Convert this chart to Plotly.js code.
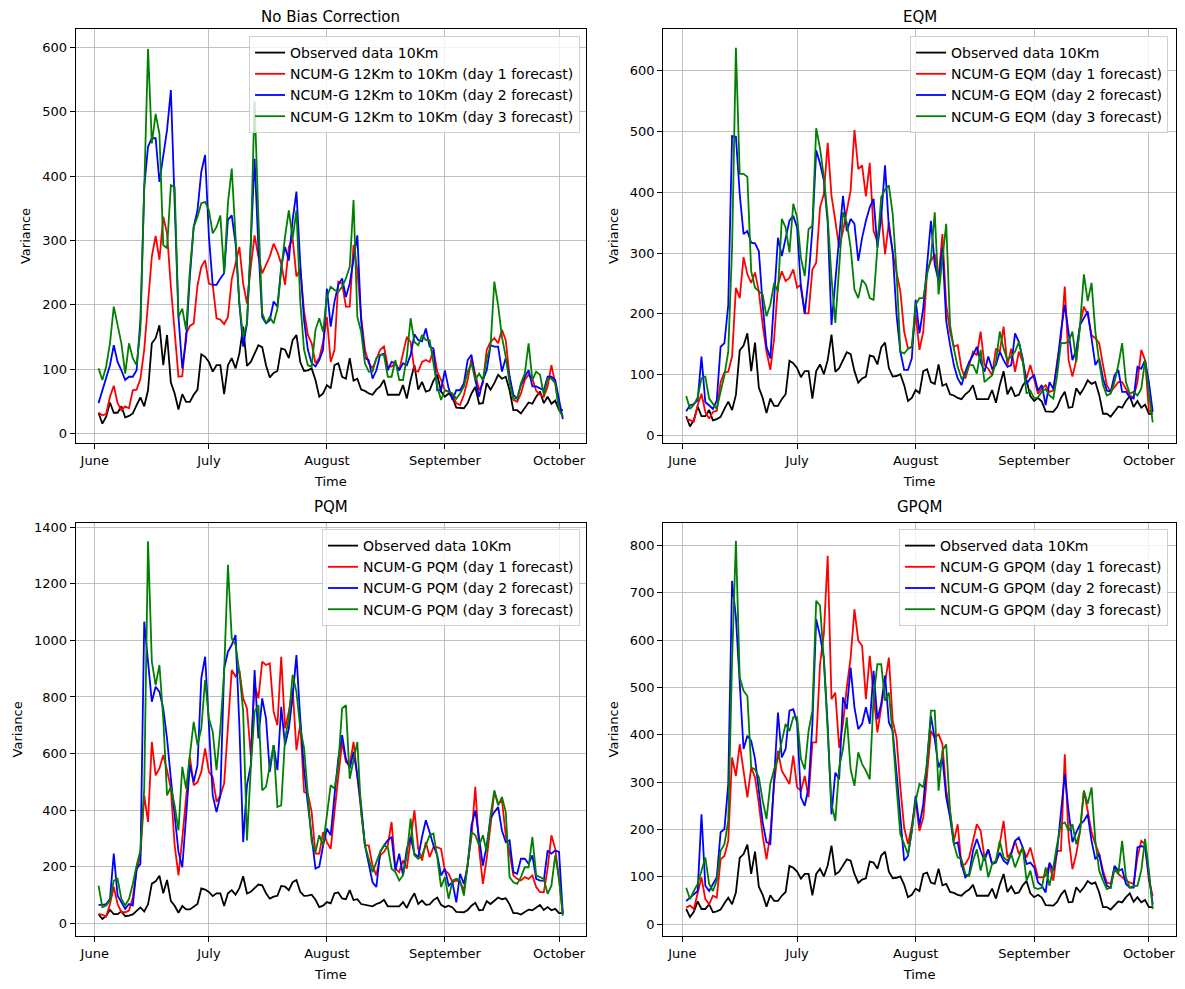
<!DOCTYPE html>
<html>
<head>
<meta charset="utf-8">
<script src="https://cdn.plot.ly/plotly-3.0.1.min.js"></script>
<style>
  body { margin: 0; background: #fff; }
  #chart { width: 1185px; height: 989px; }
</style>
</head>
<body>
<div id="chart"></div>
<script>
// daily values, 2 June -> 2 October
var startDay = '2023-06-02';
var monthTicks = ['2023-06-01', '2023-07-01', '2023-08-01', '2023-09-01', '2023-10-01'];
var monthNames = ['June', 'July', 'August', 'September', 'October'];
var panelTitles = ['No Bias Correction', 'EQM', 'PQM', 'GPQM'];

var observed = [32,15,26,48,32,32,42,25,27,31,
  44,56,42,67,140,148,168,106,153,79,
  62,37,61,49,49,60,68,123,119,111,
  96,106,106,61,106,117,101,124,166,105,
  111,124,137,134,106,87,94,97,132,130,
  117,145,153,111,97,98,101,83,57,62,
  75,70,106,109,88,85,117,82,85,68,
  66,62,60,68,73,83,60,60,60,60,
  75,54,83,106,68,80,65,67,82,91,
  65,57,62,56,40,40,39,47,62,72,
  46,47,78,68,78,91,85,88,67,36,
  36,31,40,48,46,57,65,47,57,46,
  51,36,36];

// No bias correction
var nbDay1 = [32,28,30,57,74,47,36,42,39,67,
  68,85,130,197,275,307,270,337,311,228,
  161,88,89,155,167,171,230,259,269,233,
  231,179,177,170,181,240,264,290,233,202,
  259,308,275,249,262,275,295,282,264,231,
  290,303,244,256,190,153,140,109,117,142,
  181,111,130,236,233,197,197,293,254,181,
  130,109,101,117,130,135,104,104,109,98,
  124,150,142,98,96,111,114,111,130,96,
  83,67,65,60,47,44,60,83,117,91,
  67,78,130,142,148,140,161,145,88,52,
  49,62,83,91,85,66,60,57,73,106,
  78,39,26];
var nbDay2 = [47,67,88,106,137,111,98,83,88,88,
  98,176,383,446,459,459,391,430,472,534,
  352,181,101,145,244,321,347,407,433,306,
  231,231,241,249,332,339,295,202,135,171,
  295,427,290,181,171,176,205,197,259,290,
  269,332,376,264,176,130,109,104,114,130,
  225,166,205,231,241,212,233,269,308,176,
  117,114,85,98,122,124,98,111,109,98,
  109,106,122,154,145,143,163,135,132,67,
  67,98,70,52,67,67,78,114,122,83,
  57,83,98,137,135,135,96,117,88,60,
  54,75,88,98,73,73,70,67,88,88,
  83,52,22];
var nbDay3 = [101,83,104,140,197,171,140,93,140,117,
  106,161,368,598,451,497,466,293,288,386,
  383,181,194,161,254,321,337,358,360,347,
  311,321,339,249,358,412,306,202,150,171,
  295,516,337,187,171,181,171,194,254,306,
  347,303,347,205,130,106,104,161,179,158,
  212,228,223,220,228,241,259,363,181,158,
  109,96,96,117,122,122,88,88,114,83,
  83,119,179,142,137,153,145,145,109,73,
  52,67,65,62,54,62,73,96,109,83,
  93,83,117,135,236,199,150,119,78,54,
  54,78,93,140,83,96,91,60,85,85,
  78,36,26];

// EQM
var eqDay1 = [28,26,23,50,69,39,28,39,41,88,
  104,105,130,243,226,293,265,251,268,237,
  182,138,108,160,248,270,254,259,273,243,
  248,201,201,273,284,375,397,481,394,353,
  309,336,370,403,502,438,444,393,448,336,
  320,367,298,350,300,270,237,171,143,146,
  199,141,171,270,287,298,259,331,215,171,
  146,149,110,94,116,138,132,171,116,110,
  99,143,138,179,116,143,105,138,121,94,
  116,94,69,77,83,72,74,121,160,245,
  124,97,124,182,212,199,165,160,152,116,
  83,72,80,88,88,77,66,63,88,141,
  124,41,39];
var eqDay2 = [40,50,52,58,130,55,50,44,58,146,
  152,215,492,491,397,331,336,317,316,303,
  215,146,127,226,325,295,325,353,361,342,
  243,201,259,339,469,447,419,350,182,260,
  325,394,336,356,348,287,325,353,375,389,
  309,359,444,342,303,199,138,108,108,127,
  223,168,210,281,353,281,254,309,188,149,
  116,94,83,105,121,132,146,121,105,130,
  110,116,138,124,113,116,168,154,127,85,
  94,99,74,83,50,88,77,116,171,215,
  171,124,141,182,193,204,160,116,127,94,
  74,72,99,108,72,72,63,61,113,110,
  124,88,39];
var eqDay3 = [65,44,51,63,94,97,61,52,44,72,
  99,138,309,637,430,430,425,270,243,237,
  232,196,215,251,237,356,342,301,381,359,
  292,262,339,345,505,472,425,359,259,185,
  270,367,350,309,240,226,256,248,226,223,
  309,392,404,411,364,270,138,135,143,146,
  215,226,226,265,292,367,232,292,348,182,
  143,113,94,99,116,116,102,141,88,94,
  99,121,171,143,124,130,138,154,124,69,
  74,61,63,72,77,66,61,99,152,152,
  154,171,121,182,265,221,251,171,121,83,
  66,69,88,116,152,88,69,72,66,77,
  124,69,22];

// PQM
var pqDay1 = [33,30,24,68,128,68,39,39,45,90,
  187,240,452,358,641,523,547,594,541,476,
  275,169,299,452,588,488,499,535,618,535,
  517,429,452,494,700,895,872,895,795,759,
  594,842,795,925,913,919,748,700,942,689,
  748,830,612,706,464,458,393,246,246,322,
  287,263,393,511,641,570,559,641,523,393,
  275,275,204,169,240,252,275,358,193,181,
  222,193,287,399,263,222,287,234,269,269,
  263,187,175,145,151,145,116,216,305,482,
  263,139,228,346,464,423,435,311,252,169,
  157,151,163,157,169,128,110,110,193,311,
  263,157,33];
var pqDay2 = [65,65,68,86,246,98,74,51,68,63,
  193,210,1066,937,783,836,818,759,653,511,
  393,252,198,393,559,499,559,866,942,700,
  452,393,452,900,960,984,1019,700,287,488,
  559,895,653,795,724,535,630,541,765,630,
  689,800,948,724,545,420,310,193,200,275,
  334,311,452,582,665,582,547,606,523,417,
  275,204,145,128,252,275,293,305,187,246,
  169,263,305,246,234,305,364,322,275,240,
  169,193,133,145,74,175,139,204,346,399,
  305,204,275,370,393,411,328,287,293,181,
  175,228,228,210,240,157,151,151,257,246,
  257,252,33];
var pqDay3 = [133,57,63,80,151,157,86,63,86,139,
  204,257,476,1350,925,842,913,724,452,482,
  417,328,553,476,594,712,630,689,860,724,
  677,541,689,889,1267,1007,984,889,748,293,
  547,748,771,470,482,559,630,411,417,653,
  724,878,818,689,620,452,287,252,311,275,
  393,488,476,559,759,771,511,582,641,393,
  275,228,181,216,252,275,269,193,181,151,
  169,240,370,240,228,240,275,311,317,234,
  128,163,86,151,157,151,98,216,322,311,
  275,311,252,381,470,417,446,393,163,145,
  139,163,198,198,305,169,163,157,104,133,
  240,157,27];

// GPQM
var gpDay1 = [35,39,32,63,99,53,42,60,56,137,
  144,176,352,313,380,324,268,331,310,254,
  187,137,190,296,366,324,310,296,356,289,
  282,313,268,384,384,549,613,778,475,489,
  373,423,500,563,665,599,588,475,567,486,
  405,458,507,563,430,394,289,204,169,208,
  261,197,225,317,408,394,401,380,282,239,
  176,211,123,127,141,176,211,197,141,158,
  127,134,169,218,141,151,176,148,162,141,
  162,130,99,99,102,127,92,155,155,359,
  183,116,148,197,282,239,194,169,148,113,
  88,85,120,106,99,92,88,85,141,176,
  169,92,60];
var gpDay2 = [49,56,63,70,232,81,70,85,99,194,
  201,296,725,648,521,370,398,387,349,282,
  215,173,169,306,447,352,370,451,454,426,
  268,250,289,423,644,609,563,420,232,320,
  306,479,454,542,458,412,423,458,423,535,
  433,465,525,426,408,320,230,134,144,197,
  271,208,254,345,440,391,331,352,268,225,
  169,173,127,99,106,155,180,155,134,158,
  127,130,151,134,127,148,176,183,162,127,
  130,120,88,81,67,130,113,155,243,317,
  239,173,194,211,218,232,176,137,148,106,
  81,77,123,113,116,85,77,77,162,165,
  162,99,42];
var gpDay3 = [77,53,70,85,113,141,85,70,92,155,
  169,218,556,810,521,493,482,331,327,310,
  261,222,296,327,349,387,423,408,437,437,
  349,327,408,451,683,673,556,408,254,218,
  331,370,437,327,292,363,338,324,306,479,
  549,549,472,489,401,290,190,169,148,197,
  260,296,289,338,451,451,282,366,380,239,
  169,141,137,106,102,134,158,113,148,99,
  127,134,176,141,134,148,120,141,162,92,
  113,77,74,77,120,81,120,169,211,215,
  197,211,169,197,282,254,289,176,113,92,
  74,77,116,106,176,99,77,81,81,113,
  180,113,32];

var dates = [];
var t0 = new Date(startDay + 'T00:00:00Z').getTime();
for (var i = 0; i < observed.length; i++) {
  dates.push(new Date(t0 + i * 86400000).toISOString().slice(0, 10));
}

var font = 'DejaVu Sans, Arial, sans-serif';
var colors = ['black', 'red', 'blue', 'green'];

var panels = [
  {label: 'NCUM-G 12Km to 10Km', series: [nbDay1, nbDay2, nbDay3]},
  {label: 'NCUM-G EQM', series: [eqDay1, eqDay2, eqDay3]},
  {label: 'NCUM-G PQM', series: [pqDay1, pqDay2, pqDay3]},
  {label: 'NCUM-G GPQM', series: [gpDay1, gpDay2, gpDay3]}
];

var traces = [];
panels.forEach(function (p, k) {
  var n = k === 0 ? '' : String(k + 1);
  var all = [observed].concat(p.series);
  var names = ['Observed data 10Km'];
  for (var d = 1; d <= 3; d++) names.push(p.label + ' (day ' + d + ' forecast)');
  all.forEach(function (y, j) {
    traces.push({
      x: dates, y: y, type: 'scatter', mode: 'lines',
      name: names[j],
      line: {color: colors[j], width: 1.8},
      xaxis: 'x' + n, yaxis: 'y' + n,
      legend: 'legend' + n
    });
  });
});

var xDomains = [[0.0639, 0.4945], [0.5597, 0.9924]];
var yDomains = [[0.5521, 0.9707], [0.0536, 0.4715]];
var yRanges = [[-15, 629], [-12, 668], [-45, 1416], [-25, 848]];
var yDticks = [100, 100, 200, 100];

function xAxis(k) {
  var n = k === 0 ? '' : String(k + 1);
  return {
    type: 'date', domain: xDomains[k % 2], anchor: 'y' + n,
    range: ['2023-05-27 00:00', '2023-10-08 02:00'],
    tickmode: 'array', tickvals: monthTicks, ticktext: monthNames,
    showgrid: true, gridcolor: '#b0b0b0', gridwidth: 0.8,
    ticks: 'outside', ticklen: 5, tickwidth: 1, tickcolor: '#000',
    showline: true, linecolor: '#000', linewidth: 1, mirror: true, zeroline: false,
    tickfont: {family: font, size: 13, color: '#000'},
    title: {text: 'Time', font: {family: font, size: 13, color: '#000'}, standoff: 10}
  };
}
function yAxis(k) {
  var n = k === 0 ? '' : String(k + 1);
  return {
    domain: yDomains[Math.floor(k / 2)], anchor: 'x' + n,
    range: yRanges[k], dtick: yDticks[k], tick0: 0,
    showgrid: true, gridcolor: '#b0b0b0', gridwidth: 0.8,
    ticks: 'outside', ticklen: 5, tickwidth: 1, tickcolor: '#000',
    showline: true, linecolor: '#000', linewidth: 1, mirror: true, zeroline: false,
    tickfont: {family: font, size: 13, color: '#000'},
    title: {text: 'Variance', font: {family: font, size: 13, color: '#000'}, standoff: 8}
  };
}

var legendX = [0.4895, 0.9857, 0.4895, 0.9857];
var legendY = [0.9636, 0.9636, 0.4651, 0.4651];

var layout = {
  width: 1185, height: 989,
  margin: {l: 0, r: 0, t: 0, b: 0},
  paper_bgcolor: '#fff', plot_bgcolor: '#fff',
  font: {family: font, color: '#000'},
  annotations: []
};
for (var k = 0; k < 4; k++) {
  var n = k === 0 ? '' : String(k + 1);
  layout['xaxis' + n] = xAxis(k);
  layout['yaxis' + n] = yAxis(k);
  layout['legend' + n] = {
    x: legendX[k], y: legendY[k], xref: 'paper', yref: 'paper',
    xanchor: 'right', yanchor: 'top',
    bgcolor: 'rgba(255,255,255,0.8)', bordercolor: '#d0d0d0', borderwidth: 1,
    font: {family: font, size: 14, color: '#000'}
  };
  var xd = xDomains[k % 2];
  layout.annotations.push({
    text: panelTitles[k], xref: 'paper', yref: 'paper',
    x: (xd[0] + xd[1]) / 2, y: k < 2 ? 0.9828 : 0.4874,
    xanchor: 'center', yanchor: 'middle', showarrow: false,
    font: {family: font, size: 15, color: '#000'}
  });
}

Plotly.newPlot('chart', traces, layout, {staticPlot: true, displayModeBar: false});
</script>
</body>
</html>
